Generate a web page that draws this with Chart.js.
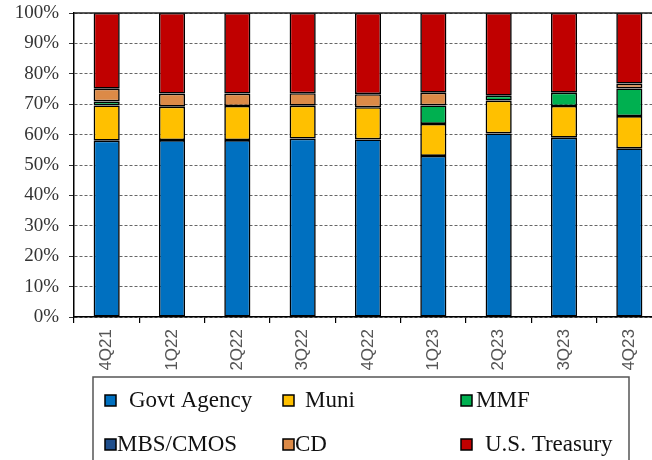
<!DOCTYPE html>
<html>
<head>
<meta charset="utf-8">
<script src="https://cdn.jsdelivr.net/npm/chart.js@4"></script>
<style>
  html, body { margin: 0; padding: 0; background: #fff; overflow: hidden; }
  #wrap { width: 652px; height: 460px; overflow: hidden; position: relative; }
  canvas { display: block; }
</style>
</head>
<body>
<div id="wrap"><canvas id="chart" width="672" height="460"></canvas></div>
<script>
// Quarterly portfolio composition, percent of total
const quarters = ['4Q21', '1Q22', '2Q22', '3Q22', '4Q22', '1Q23', '2Q23', '3Q23', '4Q23'];
const govtAgency = [58.0, 58.2, 58.2, 58.7, 58.4, 53.0, 60.4, 59.0, 55.5];
const muni       = [11.6, 11.0, 11.2, 10.8, 10.6, 10.5, 10.8, 10.4, 10.6];
const mmf        = [1.3, null, null, null, null, 6.1, 1.6, 4.4, 9.1];
const mbsCmos    = [null, null, null, null, null, null, null, null, null];
const cd         = [4.2, 4.3, 4.1, 4.1, 4.3, 4.2, null, null, 1.6];
const treasury   = [24.9, 26.5, 26.5, 26.4, 26.7, 26.2, 27.2, 26.2, 23.2];
const yTicks     = [0, 10, 20, 30, 40, 50, 60, 70, 80, 90, 100];

const seriesNames  = ['Govt Agency', 'Muni', 'MMF', 'MBS/CMOS', 'CD', 'U.S. Treasury'];
const seriesValues = [govtAgency, muni, mmf, mbsCmos, cd, treasury];
const seriesColors = ['#0070C0', '#FFC000', '#00B050', '#1F4E8C', '#DC8A47', '#C00000'];

const datasets = seriesNames.map((name, i) => ({
  label: name,
  data: seriesValues[i],
  backgroundColor: seriesColors[i],
  borderColor: '#000',
  borderWidth: 1.6,
  borderSkipped: false,
  categoryPercentage: 1,
  barPercentage: 0.4
}));

// Solid frame line along the top of the plot area
const topLine = {
  id: 'topLine',
  afterDatasetsDraw(chart) {
    const { ctx, chartArea } = chart;
    ctx.save();
    ctx.strokeStyle = '#222';
    ctx.lineWidth = 1.5;
    ctx.beginPath();
    ctx.moveTo(chartArea.left, chartArea.top);
    ctx.lineTo(chartArea.right + 20, chartArea.top);
    ctx.stroke();
    ctx.restore();
  }
};

// Boxed legend laid out in a 3 x 2 grid below the axis labels
const gridLegend = {
  id: 'gridLegend',
  afterDraw(chart) {
    const { ctx } = chart;
    const colX = [105, 283, 461];
    const rowY = [407, 451];
    const textGap = [24, 22, 15, 12, 12, 24];
    ctx.save();
    ctx.strokeStyle = '#555';
    ctx.lineWidth = 1.5;
    ctx.strokeRect(93, 377, 536, 120);
    ctx.font = '23px "Liberation Serif"';
    ctx.textBaseline = 'alphabetic';
    chart.data.datasets.forEach((ds, i) => {
      const c = i % 3, r = Math.floor(i / 3);
      const x = colX[c], base = rowY[r];
      ctx.fillStyle = ds.backgroundColor;
      ctx.fillRect(x, base - 12, 11, 11);
      ctx.strokeStyle = '#000';
      ctx.lineWidth = 1.5;
      ctx.strokeRect(x, base - 12, 11, 11);
      ctx.fillStyle = '#111';
      ctx.fillText(ds.label, x + textGap[i], base);
    });
    ctx.restore();
  }
};

new Chart(document.getElementById('chart'), {
  type: 'bar',
  data: { labels: quarters, datasets },
  options: {
    responsive: false,
    animation: false,
    layout: { padding: { top: 13, right: 10, left: 0, bottom: 0 } },
    plugins: { legend: { display: false }, tooltip: { enabled: false } },
    scales: {
      x: {
        stacked: true,
        afterFit(scale) { scale.height = 143; },
        grid: { drawOnChartArea: false, drawTicks: true, tickLength: 6, color: '#000', offset: true, lineWidth: 1.2 },
        border: { color: '#000', width: 1.5 },
        ticks: {
          minRotation: 90, maxRotation: 90, padding: 6,
          color: '#555',
          font: { family: '"Liberation Sans"', size: 17 }
        }
      },
      y: {
        stacked: true,
        min: 0, max: 100,
        afterFit(scale) { scale.width = 74; scale.paddingTop = 0; scale.paddingBottom = 0; },
        afterBuildTicks(scale) { scale.ticks = yTicks.map(v => ({ value: v })); },
        grid: { color: '#666', lineWidth: 1, tickLength: 5, tickBorderDash: [], tickColor: '#333' },
        border: { color: '#000', width: 1.5, dash: [3, 2] },
        ticks: {
          padding: 10,
          color: '#333',
          font: { family: '"Liberation Serif"', size: 19 },
          callback: v => v + '%'
        }
      }
    }
  },
  plugins: [topLine, gridLegend]
});
</script>
</body>
</html>
